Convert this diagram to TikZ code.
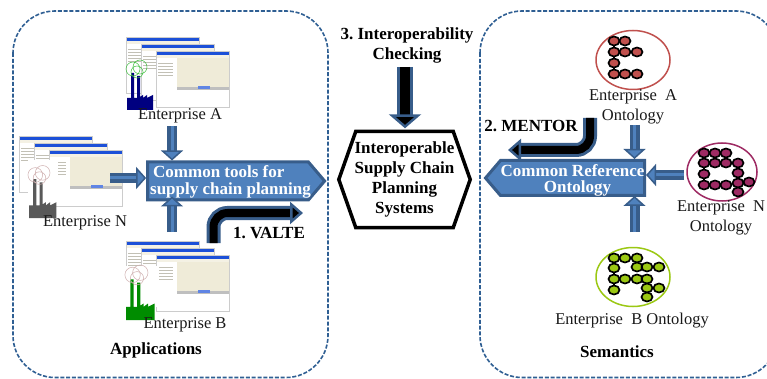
\documentclass[tikz,border=0pt]{standalone}
\usepackage{fontspec}
\setmainfont{Liberation Serif}
\frenchspacing
\usetikzlibrary{arrows.meta}
\usetikzlibrary{shapes.geometric,shapes.symbols}
\definecolor{framecol}{HTML}{2F5F93}
\definecolor{blockedge}{HTML}{385D8A}
\definecolor{blockfill}{HTML}{4F81BD}
\definecolor{barblue}{HTML}{1C50D8}
\definecolor{wincream}{HTML}{EFEBD8}
\definecolor{ontA}{HTML}{C0504D}
\definecolor{ontN}{HTML}{9E2A63}
\definecolor{ontB}{HTML}{9BC813}

\tikzset{
	groupframe/.style={draw=framecol,line width=1.6pt,dash pattern=on 4pt off 1.8pt,rounded corners=42pt},
	plaintext/.style={font=\fontsize{16.5}{20}\selectfont,align=center,inner sep=0pt,text=black!90},
	boldtext/.style={font=\fontsize{17}{20}\selectfont\bfseries,align=center,inner sep=0pt},
	blocktext/.style={font=\fontsize{17}{16.5}\selectfont\bfseries,text=white,inner sep=0pt},
	blockshape/.style={signal,draw=blockedge,fill=blockfill,line width=3pt,inner sep=0pt,signal from=nowhere},
	blockarrow/.style={draw=blockedge,line width=3.5pt,double=blockfill,double distance=3pt,
		-{Triangle[length=10pt,width=22pt,fill=blockfill,line width=1.5pt]}},
	stepfat/.style={draw=blockedge,line width=3pt,double=black,double distance=8pt,rounded corners=14pt,
		-{Triangle[length=13pt,width=22pt,fill=black,line width=2.5pt]}},
	ontring/.style={ellipse,draw,line width=1.5pt,minimum width=74pt,minimum height=59pt,inner sep=0pt},
	ontdot/.style={ellipse,draw=black,line width=1.7pt,minimum width=11pt,minimum height=9pt,inner sep=0pt},
	ontlink/.style={draw=black,line width=1.7pt},
	pics/screenwin/.style={code={
		\fill[white] (0,0) rectangle (73,56);
		\fill[wincream] (21,7) rectangle (73,37);
		\fill[wincream!70!white] (0,4) rectangle (73,7);
		\fill[black!25] (21,36) rectangle (73,39);
		\fill[barblue!70] (42,35) rectangle (54,38);
		\foreach \k in {12,15,18,21,24} {\fill[wincream!60!gray] (2,\k) rectangle (17,\k+1);}
		\fill[barblue] (0,0) rectangle (73,4);
		\draw[black!20,line width=.4pt] (0,0) rectangle (73,56);
	}},
	pics/winstack/.style={code={
		\foreach \x/\y in {0/0,15/7,30/14} {\pic at (\x,\y) {screenwin};}
	}},
	pics/factory/.style 2 args={code={
		\fill[#1] (0,0) -- (0,-12) -- (4,-12) -- (4,-37) -- (7,-37) -- (7,-12) -- (10,-12) -- (10,-34) -- (13,-34)
			-- (13,-13) -- (16,-15) -- (16,-12) -- (20,-15) -- (20,-12) -- (26,-15) -- (26,0) -- cycle;
		\draw[#2,line width=.5pt] (6,-41) circle (7) (13,-43) circle (7) (10,-38) circle (6);
	}},
}

\begin{document}
\begin{tikzpicture}[x=1pt,y=-1pt]
	\clip (0,0) rectangle (767,379);
	\fill[white] (0,0) rectangle (767,379);

	\draw[groupframe] (13,11) rectangle (328,377.5);
	\draw[groupframe] (480,11) rectangle (778,377.5);

	\pic (stackA) at (126,37) {winstack};
	\pic (factA) at (127,110) {factory={blue!50!black}{green!50!gray}};
	\pic (stackN) at (19,136) {winstack};
	\fill[white] (28,160) rectangle (58,205);
	\pic[scale=1.05] (factN) at (29,218) {factory={black!65}{red!25!gray!50}};
	\pic (stackB) at (126,241) {winstack};
	\fill[white] (126,266) rectangle (159,307);
	\pic[scale=1.1] (factB) at (126,320) {factory={green!55!black}{red!25!gray!50}};

	\node[plaintext] (entA) at (180,116) {Enterprise A};
	\node[plaintext] (entN) at (85,223) {Enterprise N};
	\node[plaintext] (entB) at (185,325) {Enterprise B};
	\node[boldtext] (apps) at (156,350) {Applications};
	\node[boldtext] (sem) at (617,352) {Semantics};
	\node[boldtext] (valte) at (269,233) {1. VALTE};
	\node[boldtext] (mentor) at (531,126) {2. MENTOR};
	\node[boldtext] (check) at (407,45.5) {3. Interoperability\\Checking};

	\node[blockshape,signal to=east,signal pointer angle=99,minimum width=177pt,minimum height=38pt] (tools) at (228,181) {};
	\node[blocktext,align=left] (toolstext) at (230.5,182)
		{\hspace*{3pt}Common tools for\\supply chain planning};
	\node[blockshape,signal to=west,signal pointer angle=99,minimum width=159pt,minimum height=35pt] (ref) at (572.5,178) {};
	\node[blocktext,align=center] (reftext) at (572.5,180.5)
		{Common Reference\\\hspace*{10pt}Ontology};

	\node[minimum width=131pt,minimum height=96pt,inner sep=0pt,font=\fontsize{17}{20}\selectfont\bfseries,align=center] (hexa) at (404.5,179.5)
		{Interoperable\\Supply Chain\\Planning\\Systems};
	\draw[black,line width=3.5pt] (hexa.west) -- ([xshift=17pt]hexa.north west) -- ([xshift=-17pt]hexa.north east)
		-- (hexa.east) -- ([xshift=-17pt]hexa.south east) -- ([xshift=17pt]hexa.south west) -- cycle;

	\node[ontring,draw=ontA] (ringA) at (633,60) {};
	\node[ontring,draw=ontN,minimum width=70pt,minimum height=58pt] (ringN) at (722,172) {};
	\node[ontring,draw=ontB] (ringB) at (633,277) {};
	\node[plaintext] (ontlabA) at (633,107) {Enterprise\ \ A\\Ontology};
	\node[plaintext] (ontlabN) at (721,218) {Enterprise\ \ N\\Ontology};
	\node[plaintext] (ontlabB) at (632,321) {Enterprise\ \ B Ontology};

	\foreach \n/\x/\y in {a1/614/41,a2/625/41,a3/614/52,a4/625/52,a5/637/52,a6/614/63,a7/614/74,a8/625/74,a9/637/74}
		{\node[ontdot,fill=ontA] (\n) at (\x,\y) {};}
	\foreach \p/\q in {a1/a2,a1/a3,a3/a4,a4/a5,a3/a6,a6/a7,a7/a8,a8/a9}
		{\path[ontlink] (\p) -- (\q);}
	\foreach \n/\x/\y in {n1/704/153,n2/715/153,n3/726/153,n4/704/163,n5/715/163,n6/726/163,n7/738/163,n8/704/174,n9/738/173,
		n10/704/185,n11/715/185,n12/726/185,n13/738/183,n14/749/182,n15/738/192}
		{\node[ontdot,fill=ontN] (\n) at (\x,\y) {};}
	\foreach \p/\q in {n1/n2,n2/n3,n1/n4,n4/n5,n5/n6,n6/n7,n4/n8,n7/n9,n8/n10,n9/n13,n10/n11,n11/n12,n12/n13,n13/n14,n13/n15}
		{\path[ontlink] (\p) -- (\q);}
	\foreach \n/\x/\y in {b1/614/258,b2/625/258,b3/637/258,b4/637/267,b5/647/267,b6/659/267,b7/614/268,b8/614/279,b9/625/279,
		b10/637/279,b11/647/279,b12/614/290,b13/647/288,b14/659/288,b15/647/297}
		{\node[ontdot,fill=ontB] (\n) at (\x,\y) {};}
	\foreach \p/\q in {b1/b2,b2/b3,b3/b4,b4/b5,b5/b6,b1/b7,b7/b8,b8/b12,b8/b9,b9/b10,b10/b11,b11/b13,b13/b14,b13/b15}
		{\path[ontlink] (\p) -- (\q);}

	\coordinate (startA) at (172,126);
	\coordinate (startN) at (110,178);
	\coordinate (startB) at (172,232);
	\coordinate (startOA) at (634.5,125);
	\coordinate (startON) at (684,175);
	\coordinate (startOB) at (634.5,232);
	\coordinate (startV) at (213.5,243);
	\coordinate (tipV) at (303,213);
	\coordinate (startM) at (590,118);
	\coordinate (tipM) at (508,150);
	\coordinate (startC) at (405,67);

	\draw[blockarrow] (startA) -- (startA |- tools.north);
	\draw[blockarrow] (startN) -- (startN -| tools.west);
	\draw[blockarrow] (startB) -- ([yshift=5pt]startB |- tools.south);
	\draw[blockarrow] (startOA) -- (startOA |- ref.north);
	\draw[blockarrow] (startON) -- (startON -| ref.east);
	\draw[blockarrow] (startOB) -- ([yshift=1pt]startOB |- ref.south);
	\draw[stepfat] (startV) |- (tipV);
	\draw[stepfat] (startM) |- (tipM);
	\draw[stepfat,rounded corners=0pt,double distance=10pt,-{Triangle[length=14pt,width=32pt,fill=black,line width=2.5pt]}] (startC) -- ([yshift=3pt]startC |- hexa.north);
\end{tikzpicture}
\end{document}
